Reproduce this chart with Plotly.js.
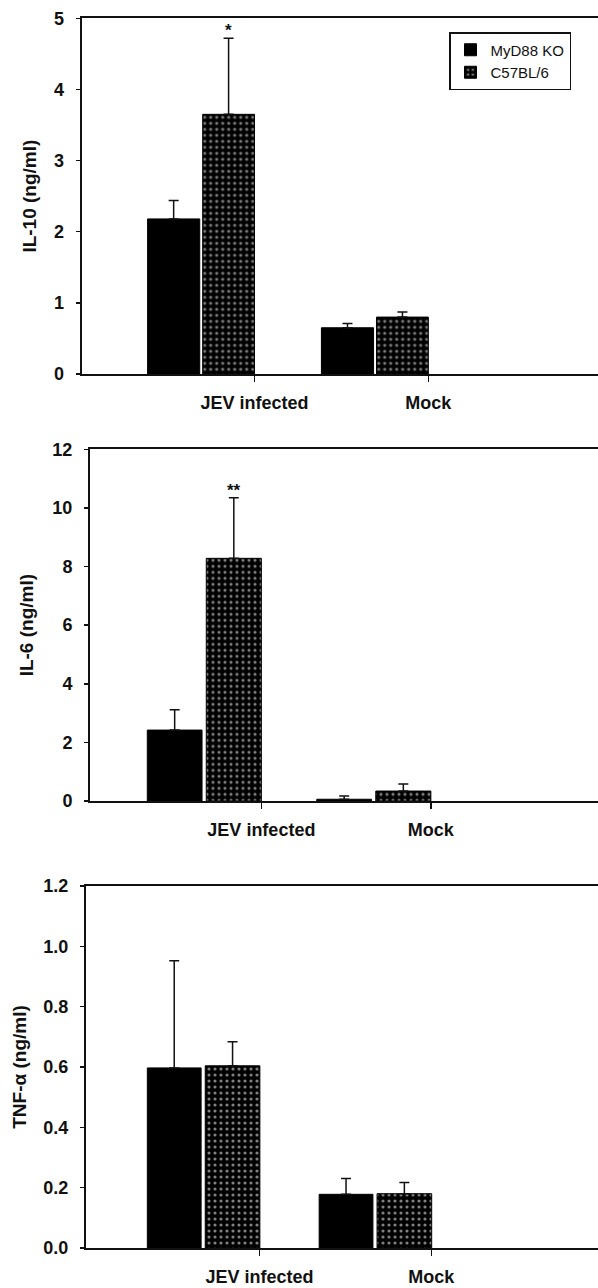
<!DOCTYPE html>
<html><head><meta charset="utf-8">
<script src="https://cdn.plot.ly/plotly-3.0.1.min.js"></script>
<style>html,body{margin:0;padding:0;background:#fff}#chart{width:598px;height:1288px}</style>
</head><body><div id="chart"></div>
<script>
// ---------- data ----------
const categories = ['JEV infected', 'Mock'];
const seriesNames = ['MyD88 KO', 'C57BL/6'];

const il10_ko = [2.18, 0.65];
const il10_ko_err = [0.26, 0.06];
const il10_wt = [3.65, 0.80];
const il10_wt_err = [1.07, 0.07];
const il10_sig = ['*', ''];

const il6_ko = [2.42, 0.06];
const il6_ko_err = [0.69, 0.11];
const il6_wt = [8.28, 0.34];
const il6_wt_err = [2.07, 0.24];
const il6_sig = ['**', ''];

const tnf_ko = [0.597, 0.178];
const tnf_ko_err = [0.355, 0.052];
const tnf_wt = [0.604, 0.180];
const tnf_wt_err = [0.080, 0.037];
const tnf_sig = ['', ''];

const yTitles = ['IL-10 (ng/ml)', 'IL-6 (ng/ml)', 'TNF-\u03b1 (ng/ml)'];
const yMax = [5, 12, 1.2];
const yStep = [1, 2, 0.2];
const yFormat = ['d', 'd', '.1f'];

// ---------- styling / layout ----------
const FONT = 'Liberation Sans, Arial, Helvetica, sans-serif';
const INK = '#111';
const H = 1288, W = 598;

const panels = [
  {ko: il10_ko, koErr: il10_ko_err, wt: il10_wt, wtErr: il10_wt_err, sig: il10_sig,
   top: 18.3, bottom: 374, left: 81.7, xr: [-0.994, 1.976],
   koOff: -0.615, koW: 0.30, wtOff: -0.298, wtW: 0.298, standoff: 12},
  {ko: il6_ko, koErr: il6_ko_err, wt: il6_wt, wtErr: il6_wt_err, sig: il6_sig,
   top: 449.3, bottom: 801, left: 90, xr: [-1.011, 1.986],
   koOff: -0.673, koW: 0.323, wtOff: -0.325, wtW: 0.325, standoff: 14},
  {ko: tnf_ko, koErr: tnf_ko_err, wt: tnf_wt, wtErr: tnf_wt_err, sig: tnf_sig,
   top: 886, bottom: 1248, left: 86, xr: [-1.010, 1.97],
   koOff: -0.653, koW: 0.313, wtOff: -0.316, wtW: 0.318, standoff: 12}
];

const data = [];
const layout = {
  width: W, height: H,
  margin: {l: 0, r: 0, t: 0, b: 0},
  paper_bgcolor: '#fff', plot_bgcolor: '#fff',
  showlegend: true,
  legend: {
    x: 449 / W, y: 1 - 32 / H, xanchor: 'left', yanchor: 'top',
    bordercolor: INK, borderwidth: 1.5, bgcolor: '#fff',
    font: {family: FONT, size: 15, color: INK},
    tracegroupgap: 0, itemwidth: 30
  },
  annotations: []
};

panels.forEach((p, i) => {
  const n = i === 0 ? '' : String(i + 1);
  const xa = 'x' + n, ya = 'y' + n;
  data.push({
    type: 'bar', name: seriesNames[0], x: categories, y: p.ko,
    xaxis: xa, yaxis: ya, offset: p.koOff, width: p.koW,
    marker: {color: '#000', line: {color: '#000', width: 1}},
    error_y: {type: 'data', symmetric: false, array: p.koErr, arrayminus: p.koErr.map(() => 0),
              color: INK, thickness: 1.5, width: 5},
    showlegend: i === 0, legendgroup: 'ko', hoverinfo: 'skip'
  });
  data.push({
    type: 'bar', name: seriesNames[1], x: categories, y: p.wt,
    xaxis: xa, yaxis: ya, offset: p.wtOff, width: p.wtW,
    marker: {color: '#000', line: {color: '#000', width: 1},
             pattern: {shape: '.', fillmode: 'overlay', fgcolor: '#fff', bgcolor: '#000', size: 6, solidity: 0.22}},
    error_y: {type: 'data', symmetric: false, array: p.wtErr, arrayminus: p.wtErr.map(() => 0),
              color: INK, thickness: 1.5, width: 5},
    showlegend: i === 0, legendgroup: 'wt', hoverinfo: 'skip'
  });

  layout['xaxis' + n] = {
    domain: [p.left / W, 1], anchor: ya, type: 'category', categoryarray: categories,
    categoryorder: 'array', range: p.xr, fixedrange: true,
    showline: true, linewidth: 2, linecolor: INK, mirror: true,
    ticks: 'outside', ticklen: 6, tickwidth: 1.5, tickcolor: INK,
    showgrid: false, zeroline: false, ticklabelstandoff: 5,
    tickfont: {family: FONT, size: 18, weight: 'bold', color: INK}
  };
  layout['yaxis' + n] = {
    domain: [1 - p.bottom / H, 1 - p.top / H], anchor: xa,
    range: [0, yMax[i]], tick0: 0, dtick: yStep[i], tickformat: yFormat[i], fixedrange: true,
    showline: true, linewidth: 2, linecolor: INK, mirror: false,
    ticks: 'outside', ticklen: 4, tickwidth: 1.5, tickcolor: INK,
    showgrid: false, zeroline: false, ticklabelstandoff: 8,
    tickfont: {family: FONT, size: 18, weight: 'bold', color: INK},
    title: {text: yTitles[i], standoff: p.standoff,
            font: {family: FONT, size: 19, weight: 'bold', color: INK}}
  };

  p.sig.forEach((s, j) => {
    if (!s) return;
    layout.annotations.push({
      xref: xa, yref: ya, x: j + p.wtOff + p.wtW / 2, y: p.wt[j] + p.wtErr[j],
      text: s, showarrow: false, yanchor: 'bottom', xanchor: 'center', yshift: -4,
      font: {family: FONT, size: 17, weight: 'bold', color: INK}
    });
  });
});

Plotly.newPlot('chart', data, layout, {staticPlot: true, displayModeBar: false});
</script>
</body></html>
